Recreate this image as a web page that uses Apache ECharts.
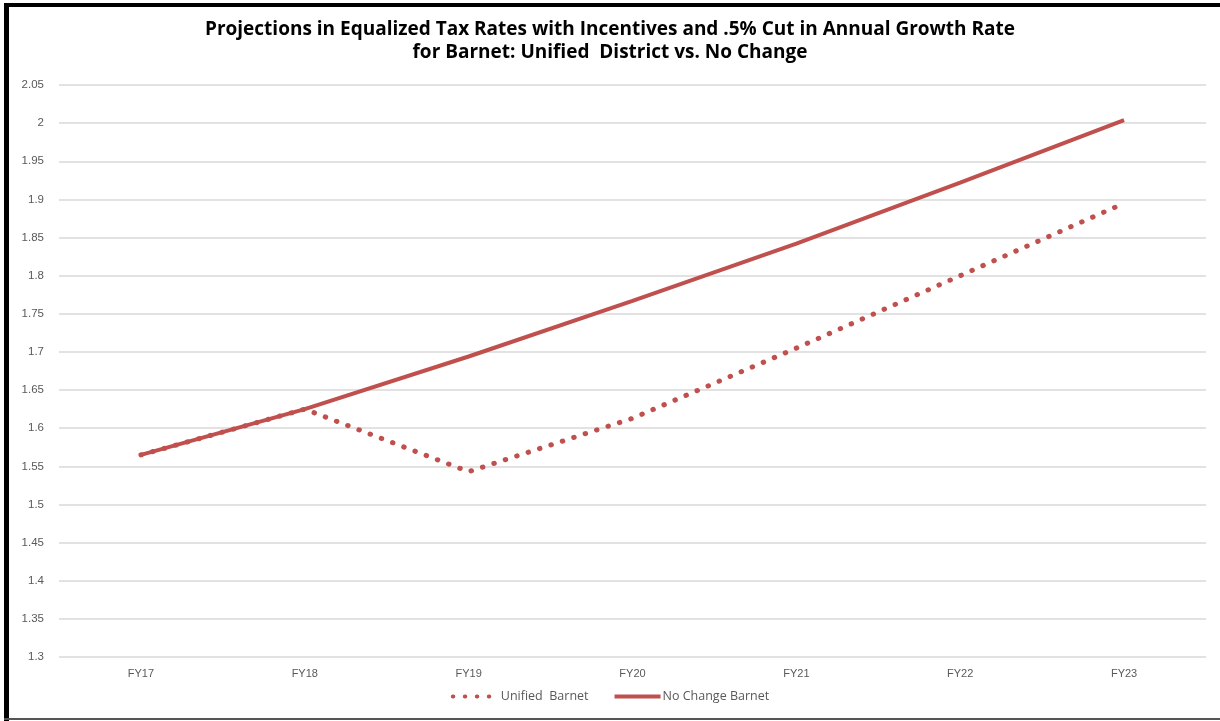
<!DOCTYPE html>
<html>
<head>
<meta charset="utf-8">
<script src="https://cdn.jsdelivr.net/npm/echarts@6/dist/echarts.min.js"></script>
<style>
  html, body { margin: 0; padding: 0; background: #fff; }
  #chart-container { width: 1220px; height: 721px; }
</style>
</head>
<body>
<div id="chart-container"></div>
<script>
// categories and values
var categories = ['FY17', 'FY18', 'FY19', 'FY20', 'FY21', 'FY22', 'FY23'];
var unifiedBarnet = [1.565, 1.625, 1.543, 1.613, 1.705, 1.800, 1.895];
var noChangeBarnet = [1.565, 1.625, 1.694, 1.767, 1.842, 1.922, 2.004];
var yTicks = [1.3, 2.05, 0.05];

var myChart = echarts.init(document.getElementById('chart-container'));

var red = '#C0504D';
var labelColor = '#595959';

var option = {
    animation: false,
    title: {
        text: 'Projections in Equalized Tax Rates with Incentives and .5% Cut in Annual Growth Rate\nfor Barnet: Unified  District vs. No Change',
        left: 'center',
        top: 13,
        textStyle: {
            fontFamily: 'Open Sans',
            fontSize: 19,
            fontWeight: 'bold',
            color: '#000',
            lineHeight: 23
        }
    },
    legend: {
        bottom: 13,
        left: 'center',
        itemWidth: 46,
        itemHeight: 10,
        itemGap: 24,
        itemStyle: { opacity: 0 },
        lineStyle: { width: 4 },
        textStyle: { color: labelColor, fontFamily: 'Open Sans', fontSize: 12.5, padding: [0, 0, 0, -3] },
        data: ['Unified  Barnet', 'No Change Barnet']
    },
    grid: {
        left: 59,
        right: 14,
        top: 85,
        bottom: 64
    },
    xAxis: {
        type: 'category',
        data: categories,
        boundaryGap: true,
        axisLine: { show: false },
        axisTick: { show: false },
        axisLabel: { color: labelColor, fontFamily: 'Liberation Sans', fontSize: 11, margin: 11 }
    },
    yAxis: {
        type: 'value',
        min: yTicks[0],
        max: yTicks[1],
        interval: yTicks[2],
        axisLine: { show: false },
        axisTick: { show: false },
        axisLabel: {
            color: labelColor,
            fontFamily: 'Liberation Sans',
            fontSize: 11.5,
            margin: 15,
            formatter: function (v) { return String(Math.round(v * 100) / 100); }
        },
        splitLine: { lineStyle: { color: '#d9d9d9', width: 1.5 } }
    },
    series: [
        {
            name: 'Unified  Barnet',
            type: 'line',
            data: unifiedBarnet,
            symbol: 'none',
            z: 2,
            lineStyle: { color: red, width: 5, type: [0.5, 11.5], cap: 'round' },
            itemStyle: { color: red }
        },
        {
            name: 'No Change Barnet',
            type: 'line',
            data: noChangeBarnet,
            symbol: 'none',
            z: 3,
            lineStyle: { color: red, width: 4 },
            itemStyle: { color: red }
        }
    ],
    graphic: [
        { type: 'rect', shape: { x: 4, y: 3, width: 5, height: 718 }, style: { fill: '#000' }, silent: true },
        { type: 'rect', shape: { x: 4, y: 3, width: 1216, height: 4 }, style: { fill: '#000' }, silent: true },
        { type: 'rect', shape: { x: 4, y: 718, width: 1216, height: 2 }, style: { fill: '#555' }, silent: true }
    ]
};

myChart.setOption(option);
</script>
</body>
</html>
